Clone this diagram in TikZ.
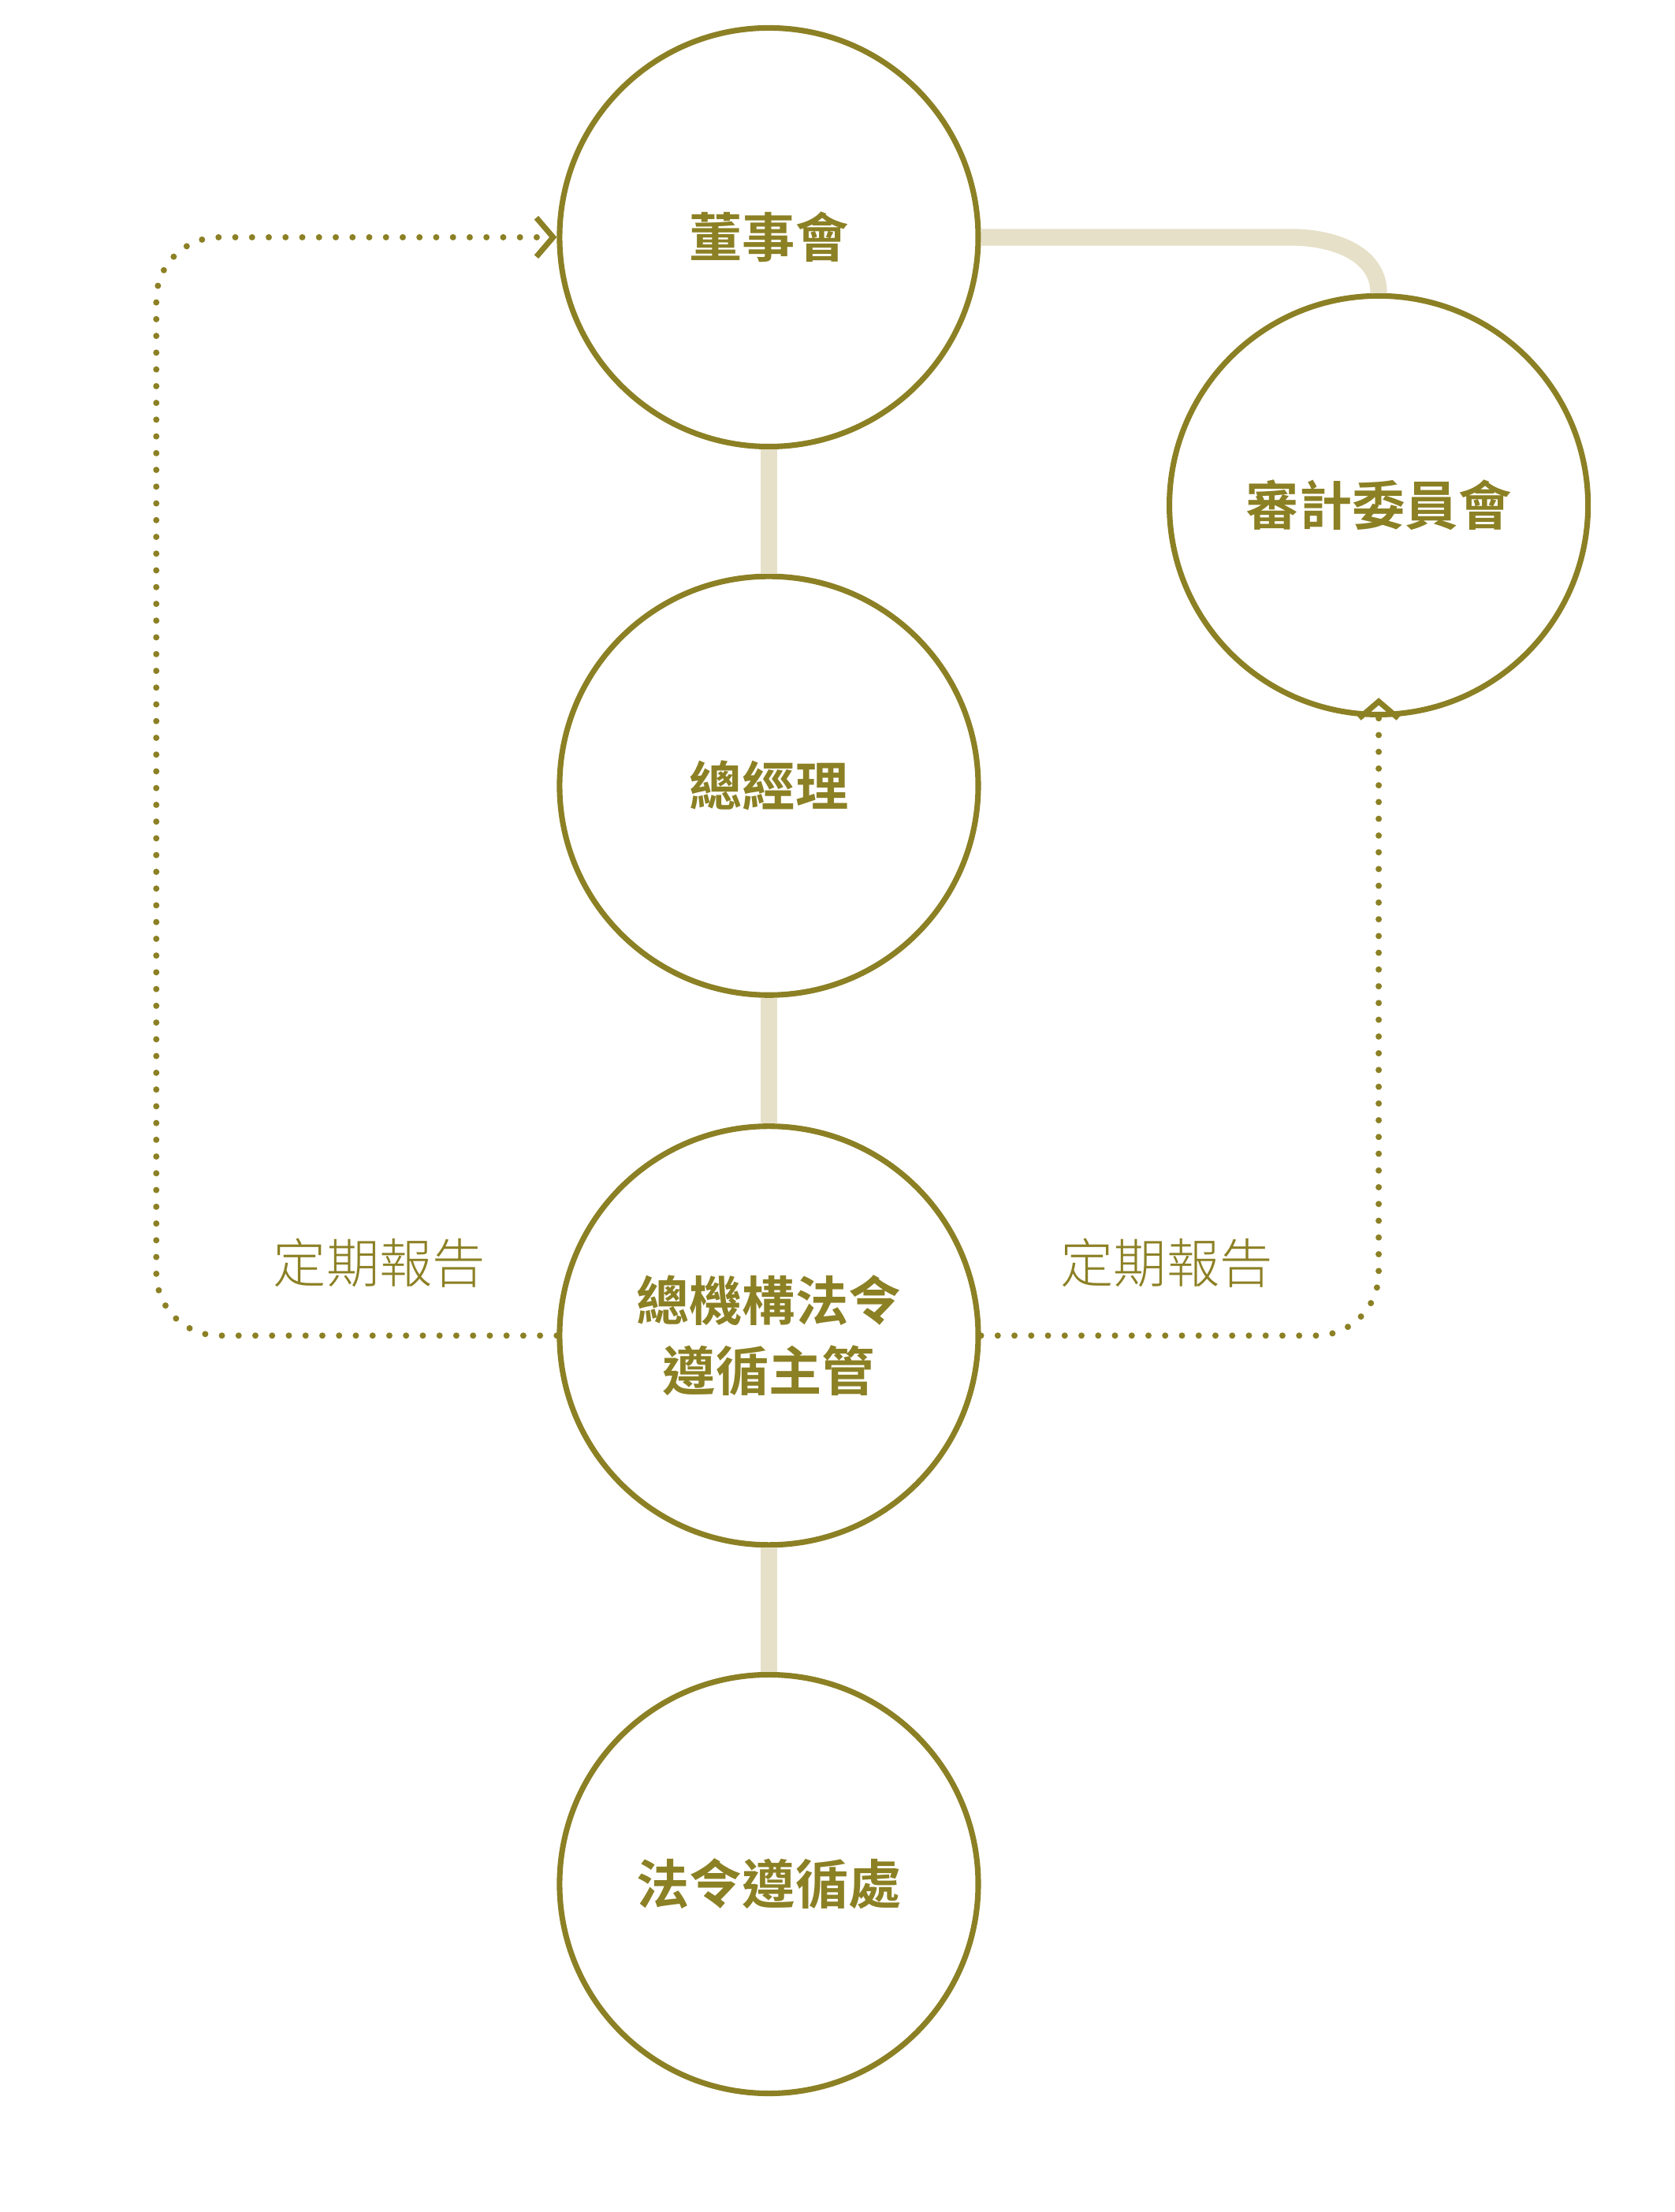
\documentclass[tikz,border=0pt]{standalone}
\usepackage{fontspec}
\newfontfamily\cjkbold{Noto Sans CJK TC Bold}
\newfontfamily\cjklight{Noto Sans CJK TC Light}
\usetikzlibrary{positioning,arrows.meta}
\definecolor{olive}{HTML}{8C8025}
\definecolor{sand}{HTML}{E6E0C8}
\tikzset{
  unit/.style={circle,draw=olive,line width=4pt,minimum size=300pt,inner sep=0pt,
    text=olive,font=\cjkbold\fontsize{38}{50}\selectfont,align=center},
  link/.style={sand,line width=12pt},
  report/.style={olive,line width=4.5pt,dash pattern=on 0pt off 12pt,line cap=round,
    rounded corners=45pt,-{Straight Barb[length=12pt,width=28pt,line width=4pt]}},
  note/.style={text=olive,font=\cjklight\fontsize{38}{46}\selectfont}
}
\begin{document}
\begin{tikzpicture}[x=1pt,y=-1pt]
  \useasboundingbox (0,0) rectangle (1200,1585);

  \node[unit] (board) at (551,170) {董事會};
  \node[unit] (audit) at (988,362) {審計委員會};
  \node[unit] (gm) at (551,563) {總經理};
  \node[unit] (chief) at (551,957) {總機構法令\\遵循主管};
  \node[unit] (dept) at (551,1350) {法令遵循處};

  % solid links
  \begin{scope}[on background layer/.style={}]
  \draw[link] (board.south) -- (gm.north);
  \draw[link] (gm.south) -- (chief.north);
  \draw[link] (chief.south) -- (dept.north);
  \draw[link] (board.east) -- (925,170) to[out=0,in=90] (audit.north);
  \end{scope}

  % reporting lines
  \draw[report] (chief.west) -- (112,957) -- (112,170) -- (board.west);
  \draw[report] (chief.east) -- (988,957) -- ([yshift=14pt]audit.south);

  \node[note] (noteL) at (272,905) {定期報告};
  \node[note] (noteR) at (836,905) {定期報告};
\end{tikzpicture}
\end{document}
